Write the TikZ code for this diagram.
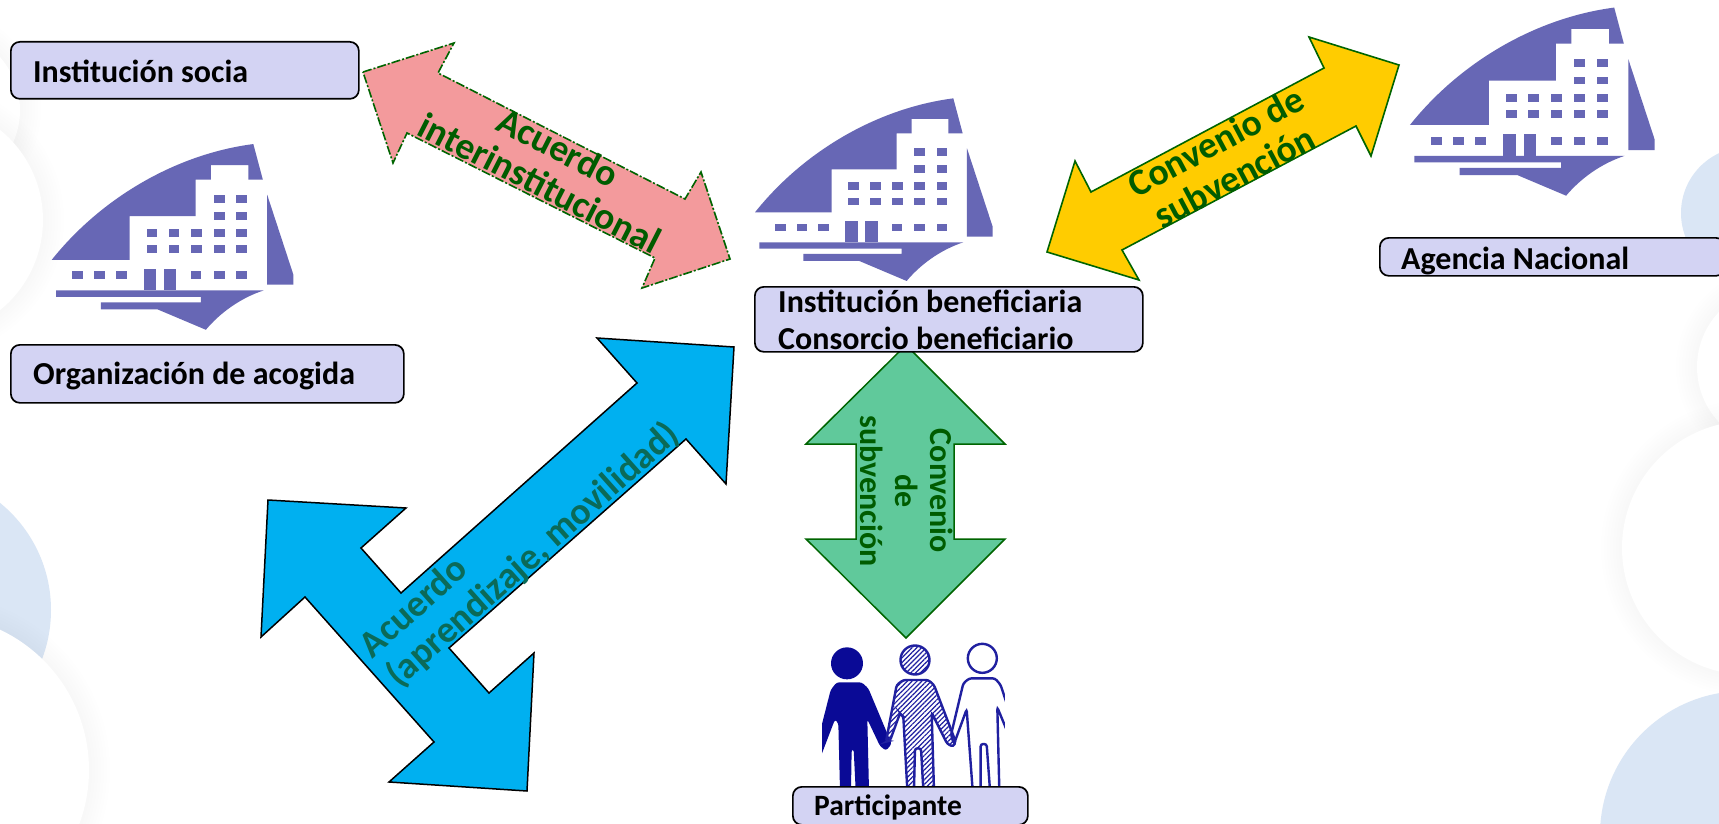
\documentclass[tikz,border=0pt]{standalone}
\usepackage{fontspec}
\setmainfont{Carlito}
\usetikzlibrary{patterns.meta}
\definecolor{bldgcol}{HTML}{6767B5}
\definecolor{boxfill}{HTML}{D3D3F3}
\definecolor{bgblue}{HTML}{DAE6F5}
\definecolor{pinkarrow}{HTML}{F39A9C}
\definecolor{yellowarrow}{HTML}{FFCC00}
\definecolor{bluearrow}{HTML}{00B0F0}
\definecolor{greenarrow}{HTML}{60C99B}
\definecolor{arrowedge}{HTML}{006400}
\definecolor{labelgreen}{HTML}{005C00}
\definecolor{labelteal}{HTML}{0B6A58}
\definecolor{navyperson}{HTML}{0A0A96}
\definecolor{lineperson}{HTML}{2020A0}
\tikzset{
  labelbox/.style={draw=black,line width=1.7pt,rounded corners=9pt,fill=boxfill,anchor=north west,inner sep=0pt},
  boxtext/.style={anchor=base west,inner sep=0pt,font=\fontsize{32}{38}\selectfont\bfseries,text=black},
  arrowtext/.style={inner sep=0pt,align=center,text=labelgreen,font=\fontsize{37.5}{40}\selectfont\bfseries},
  softring/.style={fill=black,opacity=0.003},
}
\newcommand{\softcircle}[2]{%
  \foreach \ringstep in {1,...,7}{\fill[softring] #1 circle ({#2+3*\ringstep});}
  \fill[white] #1 circle (#2);}
\newcommand{\bldg}[2]{%
  \begin{scope}[shift={#1},x=#2*0.3333pt,y=-#2*0.3333pt,bldgcol]
    \fill (45,397) .. controls (190,215) and (410,85) .. (640,55) -- (668,160) -- (625,160) -- (625,117) -- (515,117) -- (515,160) -- (470,160) -- (470,268) -- (275,268) -- (275,397) -- cycle;
    \fill (681,205) -- (758,440) -- (758,470) -- (681,470) -- cycle;
    \fill (58,487) -- (670,487) .. controls (600,510) and (540,555) .. (500,603) -- (358,543) -- (190,543) -- (190,522) -- (485,522) -- (485,506) -- (58,506) -- cycle;
    \fill (316,424) rectangle (354,487);
    \fill (376,424) rectangle (413,487);
    \foreach \wx/\wy in {523/205,590/205,523/256,590/256,
      325/306,390/306,457/306,523/306,590/306,
      325/353,390/353,457/353,523/353,590/353,
      105/431,170/431,235/431,455/431,523/431,590/431}
      {\fill (\wx,\wy) rectangle ++(32,23);}
  \end{scope}}
\begin{document}
\begin{tikzpicture}[x=1pt,y=-1pt]
\useasboundingbox (0,0) rectangle (1719,824);
\clip (0,0) rectangle (1719,824);
\fill[white] (0,0) rectangle (1719,824);
% background discs
\fill[bgblue] (-87,610) circle (138);
\softcircle{(-66,770)}{155}
\softcircle{(-60,110)}{80}
\softcircle{(-73,220)}{116}
\fill[bgblue] (1747,213) circle (66);
\softcircle{(1777,367)}{80}
\softcircle{(1749,548)}{127}
\fill[bgblue] (1744,835) circle (144);
% buildings
\bldg{(740,80)}{1}
\bldg{(36.4,125.4)}{1.017}
\bldg{(1394.5,-11.3)}{1.03}
% arrows
\draw[fill=pinkarrow,draw=arrowedge,line width=1.6pt,dash pattern=on 9pt off 2pt on 2pt off 2pt,line join=miter]
  (363,72) -- (454,43) -- (438,73) -- (685,199) -- (701,172) -- (730,259) -- (642,288) -- (655,258) -- (407,133) -- (393,163) -- cycle;
\draw[fill=yellowarrow,draw=arrowedge,line width=1.6pt]
  (1399,65) -- (1309,37) -- (1324,68) -- (1091,192) -- (1075,161) -- (1047,252) -- (1139,280) -- (1122,250) -- (1356,126) -- (1371,156) -- cycle;
\draw[fill=bluearrow,draw=black,line width=1.5pt]
  (734,347) -- (597,338) -- (637,383) -- (401,593) -- (361,548) -- (406,508) -- (268,500) -- (261,637) -- (305,597) -- (434,742) -- (389,782) -- (527,791) -- (534,653) -- (489,693) -- (449,648) -- (686,439) -- (726,484) -- cycle;
\draw[fill=greenarrow,draw=arrowedge,line width=1.5pt]
  (906,345) -- (1005,444) -- (954,444) -- (954,539) -- (1005,539) -- (906,638) -- (806,539) -- (856,539) -- (856,444) -- (806,444) -- cycle;
% arrow labels
\node[arrowtext,rotate=-27] (lblpink) at (549,165) {Acuerdo\\interinstitucional};
\node[arrowtext,rotate=28] (lblyellow) at (1225,159) {Convenio de\\subvención};
\node[arrowtext,rotate=41.7,align=left,text=labelteal] (lblblue) at (520,541) {Acuerdo\\(aprendizaje, movilidad)};
\node[arrowtext,rotate=-90,font=\fontsize{32}{35}\selectfont\bfseries] (lblgreen) at (907,491) {Convenio\\de\\subvención};
% people
\begin{scope}[shift={(790,620)},x=0.3333pt,y=-0.3333pt]
  \clip (96,50) rectangle (645,510);
  \fill[navyperson] (171,130) circle (16pt);
  \fill[navyperson,rounded corners=2.5pt] (70,414) -- (122,210) -- (140,187) -- (215,187) -- (235,205) -- (305,372) -- (288,392) -- (270,378) -- (232,298) -- (237,510) -- (197,510) -- (191,388) -- (185,388) -- (183,510) -- (150,510) -- (145,310) -- (135,298) -- (70,468) -- cycle;
  \draw[line width=2.4pt,draw=lineperson,pattern={Lines[angle=45,distance=3.4pt,line width=1.2pt]},pattern color=lineperson] (375,120) circle (14.5pt);
  \draw[line width=2.4pt,draw=lineperson,rounded corners=2.5pt,pattern={Lines[angle=45,distance=3.4pt,line width=1.2pt]},pattern color=lineperson] (340,180) -- (415,180) -- (432,195) -- (497,365) -- (490,380) -- (472,372) -- (425,278) -- (432,510) -- (400,510) -- (393,385) -- (375,385) -- (372,510) -- (352,510) -- (340,290) -- (330,280) -- (300,362) -- (288,365) -- (320,195) -- cycle;
  \draw[line width=2.4pt,draw=lineperson] (577,115) circle (14.5pt);
  \draw[line width=2.4pt,draw=lineperson,rounded corners=2.5pt] (650,250) -- (632,195) -- (615,175) -- (538,175) -- (520,190) -- (483,345) -- (492,372) -- (530,268) -- (548,510);
  \draw[line width=2.4pt,draw=lineperson,rounded corners=2.5pt] (572,510) -- (572,372) -- (590,372) -- (600,510);
  \draw[line width=2.4pt,draw=lineperson,rounded corners=2.5pt] (628,510) -- (622,262) -- (650,330);
\end{scope}
% label boxes
\node[labelbox,minimum width=348pt,minimum height=57pt] (boxsocia) at (10,41) {};
\node[labelbox,minimum width=393pt,minimum height=58pt] (boxacogida) at (10,344) {};
\node[labelbox,minimum width=388pt,minimum height=65pt] (boxbenef) at (754,286) {};
\node[labelbox,minimum width=345pt,minimum height=38pt] (boxagencia) at (1379,237) {};
\node[labelbox,minimum width=235pt,minimum height=38pt] (boxpart) at (792,786) {};
\node[boxtext] (txtsocia) at (33,82.5) {Institución socia};
\node[boxtext] (txtacogida) at (33,384.5) {Organización de acogida};
\node[boxtext] (txtbenefa) at (778,312.5) {Institución beneficiaria};
\node[boxtext] (txtbenefb) at (778,349.5) {Consorcio beneficiario};
\node[boxtext] (txtagencia) at (1401,269.5) {Agencia Nacional};
\node[boxtext,font=\fontsize{29.5}{35}\selectfont\bfseries] (txtpart) at (814,815) {Participante};
\end{tikzpicture}
\end{document}
